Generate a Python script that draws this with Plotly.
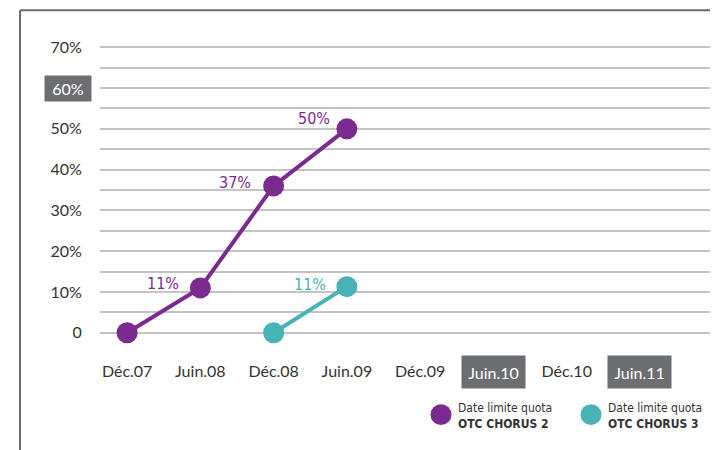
import plotly.graph_objects as go

# ---- data ----
categories = ["Déc.07", "Juin.08", "Déc.08", "Juin.09", "Déc.09", "Juin.10", "Déc.10", "Juin.11"]
boxed_categories = ["Juin.10", "Juin.11"]

chorus2_x = ["Déc.07", "Juin.08", "Déc.08", "Juin.09"]
chorus2_y = [0, 11, 36, 50]
chorus2_labels = ["", "11%", "37%", "50%"]

chorus3_x = ["Déc.08", "Juin.09"]
chorus3_y = [0, 11.3]
chorus3_labels = ["", "11%"]

y_tickvals = [0, 10, 20, 30, 40, 50, 60, 70]
y_ticktext = ["0", "10%", "20%", "30%", "40%", "50%", "60%", "70%"]
boxed_ytick = 60

legend_names = ["OTC CHORUS 2", "OTC CHORUS 3"]
legend_prefix = "Date limite quota"

# ---- style ----
PURPLE = "#7b2b8f"
TEAL = "#47b3b5"
GRID = "#c4c4c4"
TEXT = "#333333"
BOX = "#6d6e71"
AXFONT = "Lato, 'Open Sans', sans-serif"
CONDFONT = "'DejaVu Sans Condensed', 'Liberation Sans Narrow', 'Roboto', sans-serif"

# label offsets (px) for point labels: (xshift of right edge, yshift)
chorus2_label_shift = [(0, 0), (-19, 4), (-21, 3), (-15, 10)]
chorus3_label_shift = [(0, 0), (-19, 2)]

OFF = 8  # page body margin
W, H = 718 - OFF, 450 - OFF
YR = [-3, 73]
PXPER = 286 / 70.0
L = 100 - OFF
R = W - (711 - OFF)
T = (47 - (YR[1] - 70) * PXPER) - OFF
B = H - ((333 + (0 - YR[0]) * PXPER) - OFF)
PW, PH = W - L - R, H - T - B


def px(x):
    return (x - OFF - L) / PW


def py(y):
    return (H - B - (y - OFF)) / PH


fig = go.Figure()

fig.add_trace(go.Scatter(
    x=chorus2_x, y=chorus2_y, mode="lines+markers",
    line=dict(color=PURPLE, width=4),
    marker=dict(color=PURPLE, size=21),
    cliponaxis=False, showlegend=False, name=legend_names[0],
))
fig.add_trace(go.Scatter(
    x=chorus3_x, y=chorus3_y, mode="lines+markers",
    line=dict(color=TEAL, width=4),
    marker=dict(color=TEAL, size=21),
    cliponaxis=False, showlegend=False, name=legend_names[1],
))

for xs, ys, labs, shifts, col in [
    (chorus2_x, chorus2_y, chorus2_labels, chorus2_label_shift, PURPLE),
    (chorus3_x, chorus3_y, chorus3_labels, chorus3_label_shift, TEAL),
]:
    for x, y, lab, (dx, dy) in zip(xs, ys, labs, shifts):
        if not lab:
            continue
        fig.add_annotation(x=x, y=y, text=lab, showarrow=False,
                           xanchor="right", yanchor="middle",
                           xshift=dx, yshift=dy,
                           font=dict(family=CONDFONT, size=16, color=col))

x_ticktext = ["" if c in boxed_categories else c for c in categories]
y_ticktext_shown = ["" if v == boxed_ytick else t for v, t in zip(y_tickvals, y_ticktext)]

fig.update_layout(
    width=W, height=H,
    margin=dict(l=L, r=R, t=T, b=B, pad=0),
    paper_bgcolor="white", plot_bgcolor="white",
    font=dict(family=AXFONT, size=16, color=TEXT),
    xaxis=dict(
        type="category", categoryorder="array", categoryarray=categories,
        tickvals=categories, ticktext=x_ticktext,
        range=[-0.37, 7.97], showgrid=False, zeroline=False, showline=False,
        ticks="outside", ticklen=12, tickcolor="rgba(0,0,0,0)",
        tickfont=dict(family=AXFONT, size=16, color=TEXT),
    ),
    yaxis=dict(
        range=YR, tickvals=y_tickvals, ticktext=y_ticktext_shown,
        showgrid=True, gridcolor=GRID, gridwidth=1.5,
        minor=dict(tickvals=[5, 15, 25, 35, 45, 55, 65], showgrid=True,
                   gridcolor=GRID, gridwidth=1.5),
        zeroline=False, showline=False,
        ticks="outside", ticklen=14, tickcolor="rgba(0,0,0,0)",
        tickfont=dict(family=AXFONT, size=16, color=TEXT),
    ),
)

# frame lines (top and left)
fig.add_shape(type="line", xref="paper", yref="paper",
              x0=px(20), x1=px(730), y0=py(10), y1=py(10),
              line=dict(color="#6a6a6a", width=2))
fig.add_shape(type="line", xref="paper", yref="paper",
              x0=px(20), x1=px(20), y0=py(10), y1=py(460),
              line=dict(color="#6a6a6a", width=2))

# boxed tick labels
fig.add_annotation(xref="paper", yref="y", x=px(68), y=boxed_ytick,
                   xanchor="center", yanchor="middle",
                   text=y_ticktext[y_tickvals.index(boxed_ytick)],
                   showarrow=False, bgcolor=BOX, width=40, height=19, borderpad=3,
                   font=dict(family=AXFONT, size=16, color="white"))
for c in boxed_categories:
    fig.add_annotation(xref="x", yref="paper", x=c, y=py(372),
                       xanchor="center", yanchor="middle",
                       text=c, showarrow=False, bgcolor=BOX,
                       width=57, height=26, borderpad=3,
                       font=dict(family=AXFONT, size=16, color="white"))

# legend
legend_colors = [PURPLE, TEAL]
legend_x = [441, 591]
for name, col, lx in zip(legend_names, legend_colors, legend_x):
    fig.add_shape(type="circle", xref="paper", yref="paper",
                  x0=px(lx - 10.5), x1=px(lx + 10.5), y0=py(425.5), y1=py(404.5),
                  fillcolor=col, line=dict(width=0))
    fig.add_annotation(xref="paper", yref="paper", x=px(lx + 15), y=py(416),
                       xanchor="left", yanchor="middle", align="left",
                       text=f"{legend_prefix}<br><b>{name}</b>",
                       showarrow=False,
                       font=dict(family=CONDFONT, size=12, color=TEXT))

fig.write_html("out.html")
